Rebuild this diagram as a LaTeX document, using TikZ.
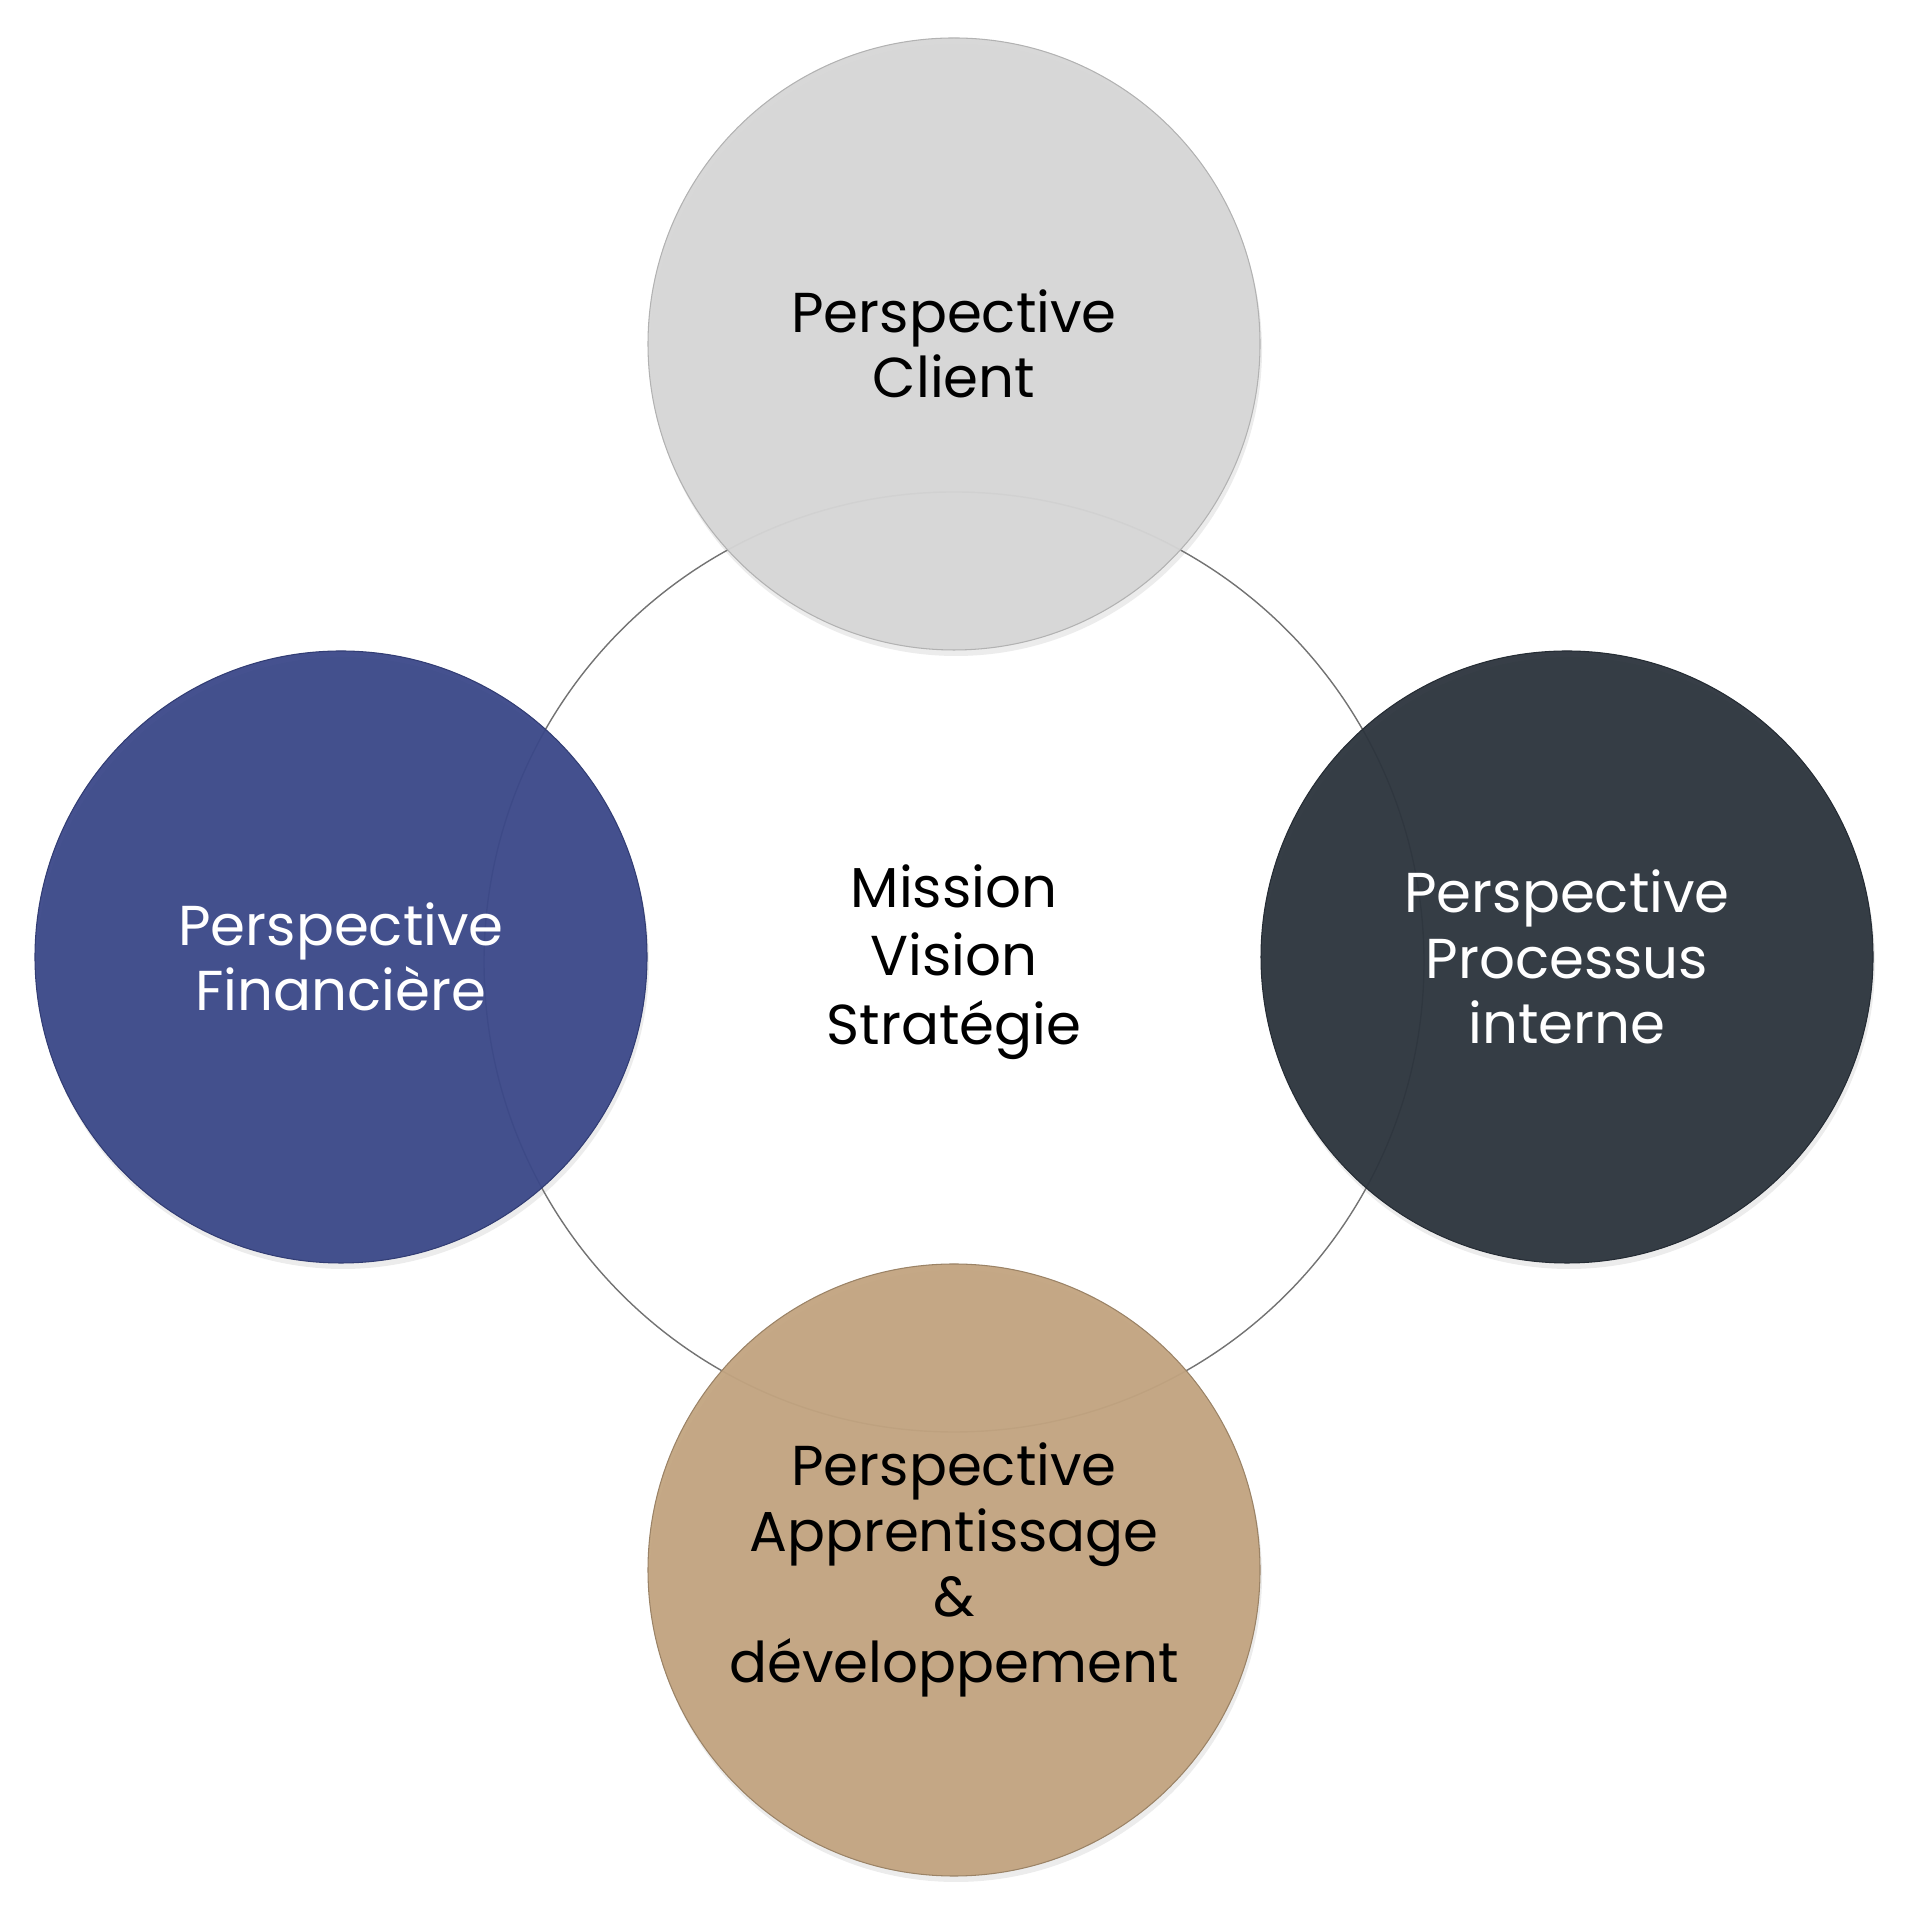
\documentclass[tikz,border=0pt]{standalone}
\usepackage{fontspec}
\setmainfont{Poppins}
\usepackage{tikz}
\usetikzlibrary{positioning,shadows}
\usepackage{xcolor}
\definecolor{clientgrey}{HTML}{D6D6D6}
\definecolor{financeblue}{HTML}{3B4889}
\definecolor{processdark}{HTML}{2C343D}
\definecolor{learningtan}{HTML}{C2A480}

\begin{document}
\begin{tikzpicture}[
  persp/.style={circle,minimum size=6.12cm,inner sep=0pt,align=center,
    font=\fontsize{16}{18.7}\selectfont,fill opacity=0.95,text opacity=1,
    line width=0.3pt,
    drop shadow={opacity=0.15,shadow xshift=0.02cm,shadow yshift=-0.06cm}}]
\useasboundingbox (0,0) rectangle (19.2,19.2);
\node[circle,draw=black!55,fill=white,minimum size=9.4cm,inner sep=0pt,align=center,
  font=\fontsize{16}{19.5}\selectfont] (mission) at (9.54,9.58) {Mission\\Vision\\Stratégie};
\node[persp,fill=clientgrey,draw=black!30] (client) at (9.54,15.76) {Perspective\\Client};
\node[persp,fill=financeblue,draw=financeblue!85!black,text=white] (finance) at (3.41,9.63) {Perspective\\Financière};
\node[persp,fill=processdark,draw=processdark!85!black,text=white] (process) at (15.67,9.63) {Perspective\\Processus\\interne};
\node[persp,fill=learningtan,draw=learningtan!80!black] (learning) at (9.54,3.50) {Perspective\\Apprentissage\\\&\\développement};
\end{tikzpicture}
\end{document}
